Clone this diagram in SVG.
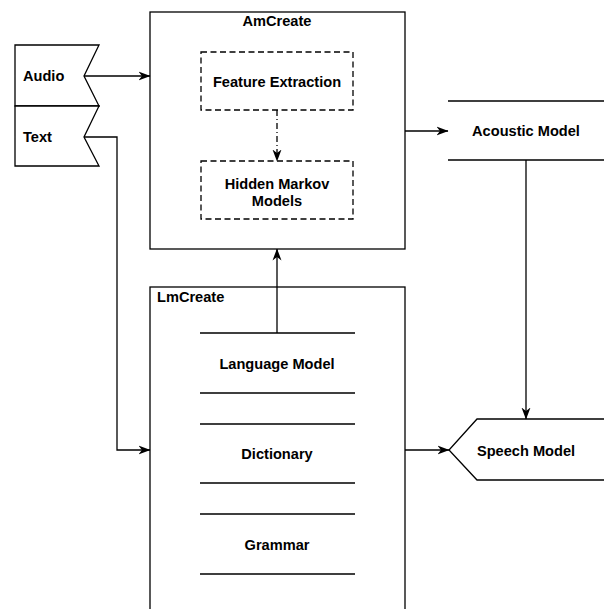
<svg xmlns="http://www.w3.org/2000/svg" width="604" height="609" viewBox="0 0 604 609">
<style>
text{font-family:"Liberation Sans",Arial,sans-serif;font-weight:bold;font-size:14.6px;fill:#000}
.s{fill:#fff;stroke:#000;stroke-width:1.3}
.l{fill:none;stroke:#000;stroke-width:1.3}
.d{fill:#fff;stroke:#000;stroke-width:1.3;stroke-dasharray:6 3.5}
.c{fill:none;stroke:#000;stroke-width:1.3}
</style>
<defs>
<marker id="a" viewBox="0 0 12 12" refX="11.5" refY="6" markerWidth="12" markerHeight="12" markerUnits="userSpaceOnUse" orient="auto">
<path d="M0,1.5 L12,6 L0,10.5 L3.5,6 Z" fill="#000"/>
</marker>
</defs>
<rect width="604" height="609" fill="#fff"/>
<g id="amcreate">
<rect class="s" x="150" y="12" width="255" height="237"/>
<text x="277" y="26" text-anchor="middle">AmCreate</text>
</g>
<g id="feature">
<rect class="d" x="201" y="52" width="152" height="58"/>
<text x="277" y="87" text-anchor="middle">Feature Extraction</text>
</g>
<g id="hmm">
<rect class="d" x="201" y="161" width="152" height="58"/>
<text x="277" y="189" text-anchor="middle">Hidden Markov</text>
<text x="277" y="206" text-anchor="middle">Models</text>
</g>
<g id="lmcreate">
<rect class="s" x="150" y="287" width="255" height="330"/>
<text x="157" y="302">LmCreate</text>
</g>
<g id="langmodel">
<path class="l" d="M200,333H355M200,393H355"/>
<text x="277" y="369" text-anchor="middle">Language Model</text>
</g>
<g id="dictionary">
<path class="l" d="M200,424H355M200,483H355"/>
<text x="277" y="459" text-anchor="middle">Dictionary</text>
</g>
<g id="grammar">
<path class="l" d="M200,514H355M200,574H355"/>
<text x="277" y="550" text-anchor="middle">Grammar</text>
</g>
<g id="audio">
<path class="s" d="M15,45H99L84,76L99,106H15Z"/>
<text x="23" y="81">Audio</text>
</g>
<g id="text">
<path class="s" d="M15,106H99L84,137L99,166H15Z"/>
<text x="23" y="142">Text</text>
</g>
<g id="acoustic">
<path class="l" d="M448,101H604M448,160H604"/>
<text x="526" y="136" text-anchor="middle">Acoustic Model</text>
</g>
<g id="speech">
<path class="s" d="M604,419H477L449,450L477,480H604"/>
<text x="526" y="456" text-anchor="middle">Speech Model</text>
</g>
<g id="connectors">
<path class="c" d="M84,76H150" marker-end="url(#a)"/>
<path class="c" d="M84,137H117V450H150" marker-end="url(#a)"/>
<path class="c" d="M277,110V161" stroke-dasharray="6 3 1 3" marker-end="url(#a)"/>
<path class="c" d="M277,333V249" marker-end="url(#a)"/>
<path class="c" d="M405,131H448" marker-end="url(#a)"/>
<path class="c" d="M526,160V419" marker-end="url(#a)"/>
<path class="c" d="M405,450H449" marker-end="url(#a)"/>
</g>
</svg>
